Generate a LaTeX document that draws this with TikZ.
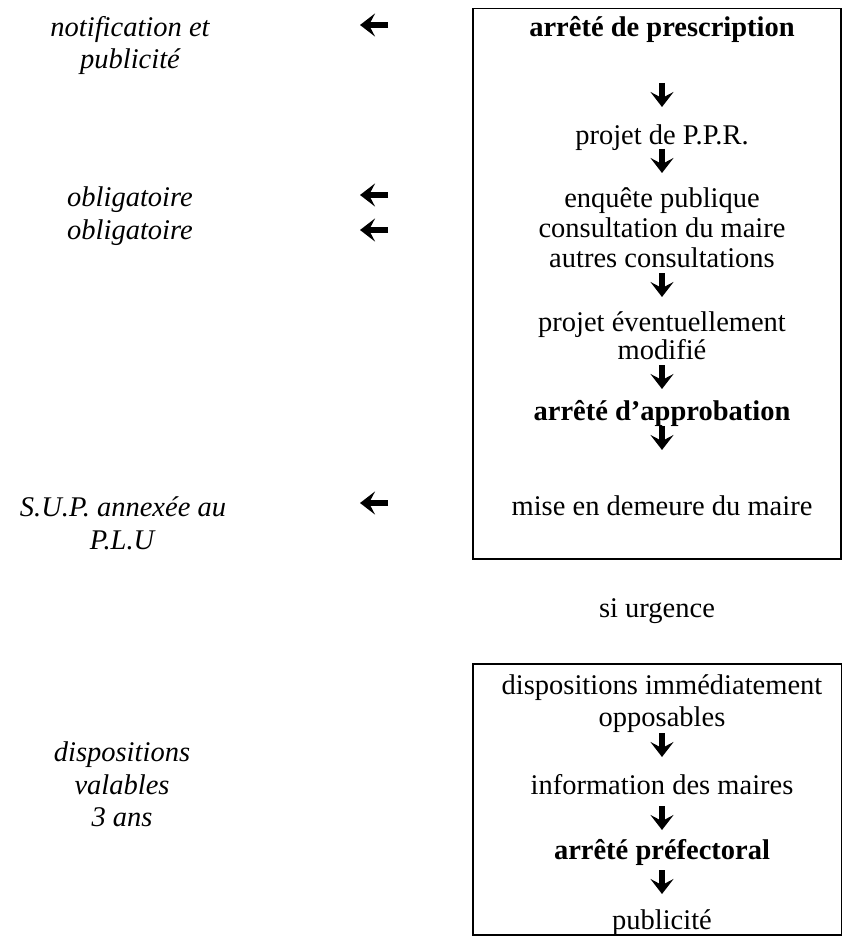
\documentclass[tikz,border=0pt]{standalone}
\usepackage{fontspec}
\setmainfont{Liberation Serif}
\usetikzlibrary{arrows.meta}
\begin{document}
\begin{tikzpicture}[x=1pt,y=-1pt,
  txt/.style={anchor=base,inner sep=0pt,font=\fontsize{28.5}{30}\selectfont},
  itxt/.style={anchor=base,inner sep=0pt,font=\fontsize{28.5}{30}\selectfont\itshape},
  frame/.style={draw=black,line width=1.5pt,inner sep=0pt,anchor=north west},
  garrow/.style={line width=5.5pt,-{Stealth[length=15pt,width=23pt,inset=6pt]}}]
\useasboundingbox (0,0) rectangle (842,936);
% boxes
\node[frame,minimum width=368pt,minimum height=550pt] (box1) at (472,8) {};
\node[frame,minimum width=369pt,minimum height=271pt] (box2) at (472,663) {};
% main column
\node[txt] (t1) at (662,37) {\textbf{arrêté de prescription}};
\node[txt] (t2) at (662,145) {projet de P.P.R.};
\node[txt] (t3) at (662,207) {enquête publique};
\node[txt] (t4) at (662,237) {consultation du maire};
\node[txt] (t5) at (662,267) {autres consultations};
\node[txt] (t6) at (662,331) {projet éventuellement};
\node[txt] (t7) at (662,359) {modifié};
\node[txt] (t8) at (662,420) {\textbf{arrêté d’approbation}};
\node[txt] (t9) at (662,515) {mise en demeure du maire};
\node[txt] (su) at (657,617) {si urgence};
\node[txt] (u1) at (662,694) {dispositions immédiatement};
\node[txt] (u2) at (662,726) {opposables};
\node[txt] (u3) at (662,794) {information des maires};
\node[txt] (u4) at (662,859) {\textbf{arrêté préfectoral}};
\node[txt] (u5) at (662,929) {publicité};
% left column
\node[itxt] (l1) at (130,37) {notification et};
\node[itxt] (l2) at (130,69) {publicité};
\node[itxt] (l3) at (130,206) {obligatoire};
\node[itxt] (l4) at (130,239) {obligatoire};
\node[itxt] (l5) at (123,516) {S.U.P. annexée au};
\node[itxt] (l6) at (122,549) {P.L.U};
\node[itxt] (l7) at (122,761) {dispositions};
\node[itxt] (l8) at (122,794) {valables};
\node[itxt] (l9) at (122,826) {3 ans};
% arrow end points
\foreach \n/\y in {d1/83,d2/149,d3/273,d4/365,d5/426,e1/733,e2/806,e3/870}{
  \coordinate (\n a) at (662,\y);
  \coordinate (\n b) at (662,\y+24);
}
\foreach \n/\y in {h1/25,h2/195,h3/230,h4/503}{
  \coordinate (\n a) at (388,\y);
  \coordinate (\n b) at (360,\y);
}
\foreach \n in {d1,d2,d3,d4,d5,e1,e2,e3,h1,h2,h3,h4}{
  \draw[garrow] (\n a) -- (\n b);
}
\end{tikzpicture}
\end{document}
